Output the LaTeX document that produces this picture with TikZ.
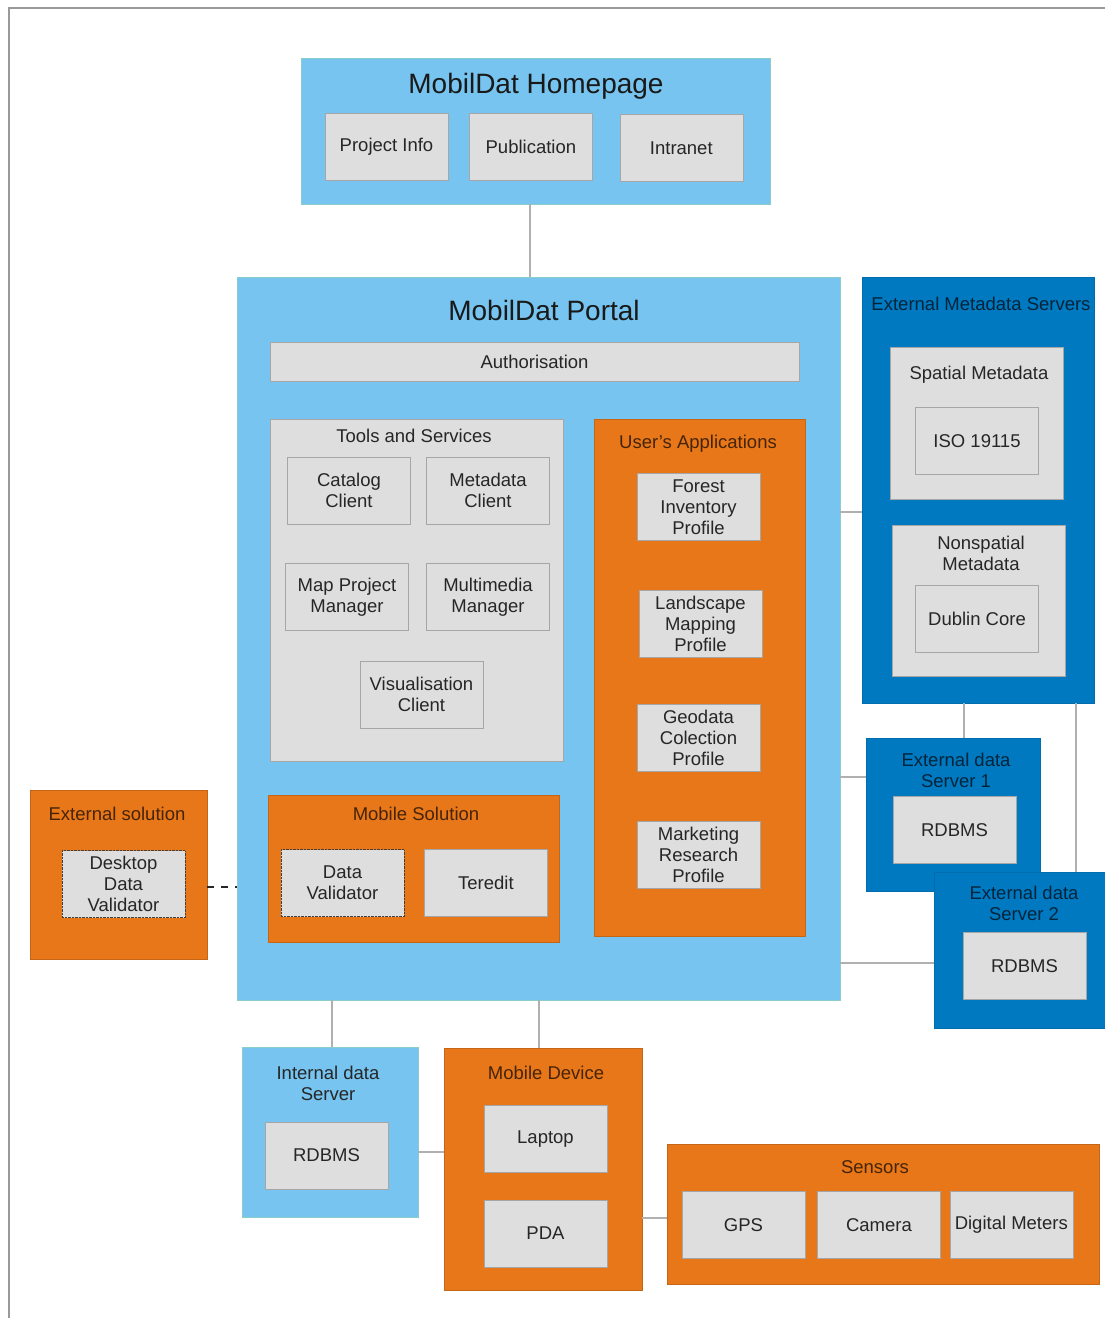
\documentclass[tikz,border=0pt]{standalone}
\usepackage{fontspec}
\setmainfont{Liberation Sans}
\usetikzlibrary{positioning, fit}
\definecolor{mdlblue}{RGB}{118,196,239}
\definecolor{mddblue}{RGB}{0,121,193}
\definecolor{mdorange}{RGB}{232,119,26}
\definecolor{mdgray}{RGB}{222,222,222}
\definecolor{mdline}{RGB}{176,176,176}
\tikzset{
every node/.style={font=\fontsize{18.5}{21}\selectfont, text=black!85}, % plain text size
lbox/.style={fill=mdlblue, draw=mdlblue!85!yellow, inner sep=0pt}, % light blue frame
dbox/.style={fill=mddblue, draw=mddblue!90!black, inner sep=0pt}, % dark blue frame
obox/.style={fill=mdorange, draw=mdorange!85!black, inner sep=0pt}, % orange frame
gbox/.style={fill=mdgray, draw=black!35, inner sep=0pt}, % grey frame
item/.style={fill=mdgray, draw=black!35, align=center, minimum width=123pt, minimum height=67pt, inner sep=1pt},
dotitem/.style={item, draw=black!75, densely dotted},
ttl/.style={align=center}, % frame title
bigttl/.style={font=\fontsize{28}{32}\selectfont, text=black!90},
conn/.style={draw=mdline, line width=1.3pt}, % grey connector
}
\begin{document}
\begin{tikzpicture}[x=1pt, y=-1pt]
\useasboundingbox (0,0) rectangle (1105,1318);
\draw[black!40, line width=1.2pt] (9,1318) -- (9,8) -- (1105,8);

% homepage
\node[lbox, fit={(301,58) (770,204)}] (home) {};
\node[bigttl] (homettl) at (536,86) {MobilDat Homepage};
\node[item] (pinfo) at (386.5,146.5) {Project Info};
\node[item, right=21pt of pinfo] (pub) {Publication};
\node[item, right=27pt of pub, yshift=-1.5pt] (intranet) {Intranet};

% portal
\node[lbox, fit={(237,277) (840,1000)}] (portal) {};
\node[bigttl] (portalttl) at (544,310) {MobilDat Portal};
\node[item, minimum width=529pt, minimum height=39pt] (auth) at (534.5,361.5) {Authorisation};

\node[gbox, fit={(270,419) (563,761)}] (tools) {};
\node[ttl] (toolsttl) at (414,436) {Tools and Services};
\node[item] (catalog) at (349,490.5) {Catalog\\Client};
\node[item] (metaclient) at (488,490.5) {Metadata\\Client};
\node[item] (mapproj) at (347,597) {Map Project\\Manager};
\node[item] (multimedia) at (488,597) {Multimedia\\Manager};
\node[item] (visual) at (421.5,694.5) {Visualisation\\Client};

\node[obox, fit={(594,419) (805,936)}] (userapp) {};
\node[ttl, text=mdorange!30!black] (userappttl) at (698,444) {User's Applications};
\node[item] (forest) at (698.5,507) {Forest\\Inventory\\Profile};
\node[item] (landscape) at (700.5,623.5) {Landscape\\Mapping\\Profile};
\node[item] (geodata) at (698.5,738) {Geodata\\Colection\\Profile};
\node[item] (marketing) at (698.5,854.5) {Marketing\\Research\\Profile};

\node[obox, fit={(268,795) (559,942)}] (mobsol) {};
\node[ttl, text=mdorange!30!black] (mobsolttl) at (416,814) {Mobile Solution};
\node[dotitem] (validator) at (342.5,883) {Data\\Validator};
\node[item, right=20pt of validator] (teredit) {Teredit};

% external solution
\node[obox, fit={(30,790) (207,959)}] (extsol) {};
\node[ttl, text=mdorange!30!black] (extsolttl) at (117,814) {External solution};
\node[dotitem] (desktop) at (123.5,884) {Desktop\\Data\\Validator};

% external servers
\node[dbox, fit={(862,277) (1094,703)}] (extmeta) {};
\node[ttl, text=mddblue!30!black] (extmetattl) at (981,304) {External Metadata Servers};
\node[gbox, fit={(890,347) (1063,499)}] (spatial) {};
\node[ttl] (spatialttl) at (979,375) {Spatial Metadata};
\node[item] (iso) at (977,441) {ISO 19115};
\node[gbox, fit={(892,525) (1065,676)}] (nonspatial) {};
\node[ttl] (nonspatialttl) at (981,553) {Nonspatial\\Metadata};
\node[item] (dublin) at (977,618.5) {Dublin Core};

\node[dbox, fit={(866,738) (1040,891)}] (server1) {};
\node[ttl, text=mddblue!30!black] (server1ttl) at (956,770) {External data\\Server 1};
\node[item] (rdbms1) at (954.5,830) {RDBMS};

\node[dbox, fit={(934,872) (1105,1028)}] (server2) {};
\node[ttl, text=mddblue!30!black] (server2ttl) at (1024,903) {External data\\Server 2};
\node[item] (rdbms2) at (1024.5,966) {RDBMS};

% bottom row
\node[lbox, fit={(242,1047) (418,1217)}] (intserver) {};
\node[ttl] (intserverttl) at (328,1083) {Internal data\\Server};
\node[item] (rdbms3) at (326.5,1155.5) {RDBMS};

\node[obox, fit={(444,1048) (642,1290)}] (mobdev) {};
\node[ttl, text=mdorange!30!black] (mobdevttl) at (546,1073) {Mobile Device};
\node[item] (laptop) at (545.5,1139) {Laptop};
\node[item, below=27pt of laptop] (pda) {PDA};

\node[obox, fit={(667,1144) (1099,1284)}] (sensors) {};
\node[ttl, text=mdorange!30!black] (sensorsttl) at (875,1167) {Sensors};
\node[item] (gps) at (743.5,1225) {GPS};
\node[item, right=12pt of gps] (camera) {Camera};
\node[item, right=9pt of camera] (meters) {Digital Meters};

% connections
\draw[conn] (home.south -| 530,0) -- (portal.north -| 530,0);
\draw[conn] (portal.east |- 0,512) -- (extmeta.west |- 0,512);
\draw[conn] (portal.east |- 0,777) -- (server1.west |- 0,777);
\draw[conn] (portal.east |- 0,963) -- (server2.west |- 0,963);
\draw[conn] (extmeta.south -| 964,0) -- (server1.north -| 964,0);
\draw[conn] (extmeta.south -| 1076,0) -- (server2.north -| 1076,0);
\draw[conn] (portal.south -| 332,0) -- (intserver.north -| 332,0);
\draw[conn] (portal.south -| 539,0) -- (mobdev.north -| 539,0);
\draw[conn] (intserver.east |- 0,1152) -- (mobdev.west |- 0,1152);
\draw[conn] (mobdev.east |- 0,1218) -- (sensors.west |- 0,1218);
\draw[black!85, line width=2.5pt, dash pattern=on 7pt off 7pt] (extsol.east |- 0,887) -- (portal.west |- 0,887);
\end{tikzpicture}
\end{document}
